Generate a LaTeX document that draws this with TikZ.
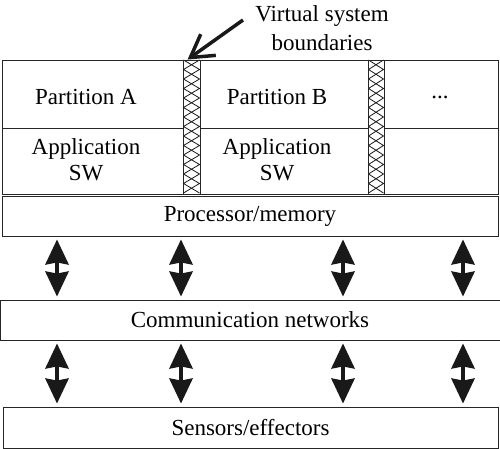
\documentclass[tikz,border=0pt]{standalone}
\usepackage{fontspec}
\setmainfont{Liberation Serif}
\usetikzlibrary{arrows.meta, positioning}

\begin{document}
\begin{tikzpicture}[x=1pt, y=-1pt,
  box/.style={rectangle, draw=black!85, line width=0.9pt, inner sep=0pt},
  lbl/.style={font=\fontsize{23}{26}\selectfont, align=center},
  updown/.style={{Stealth[length=25pt, width=23pt, inset=2pt]}-{Stealth[length=25pt, width=23pt, inset=2pt]},
    line width=4pt, black!90, shorten >=3pt, shorten <=3pt},
  pointer/.style={-{Straight Barb[length=22pt, width=26pt]}, line width=3.5pt, black!90},
  hatch/.style={black!90, line width=0.8pt}]

\pgfdeclarelayer{bg}    % lines under the boundary strips
\pgfsetlayers{bg,main}

\useasboundingbox (0,0) rectangle (500,449);

% partitions
\node (partA)[box, minimum width=181, minimum height=68] at (92.5, 94) {};
\node (partB)[box, minimum width=168, minimum height=68] at (284, 94) {};
\node (partC)[box, minimum width=114, minimum height=68] at (441, 94) {};
\node (appA)[box, minimum width=181, minimum height=66] at (92.5, 161) {};
\node (appB)[box, minimum width=168, minimum height=66] at (284, 161) {};
\node (appC)[box, minimum width=114, minimum height=66] at (441, 161) {};

\node[lbl] at (86, 97) {Partition A};
\node[lbl] at (277, 97) {Partition B};
\node[lbl] at (440, 97) {...};
\node[lbl] at (86, 160) {Application\\SW};
\node[lbl] at (277, 160) {Application\\SW};

% virtual system boundaries
\node (strip1)[box, fill=white, minimum width=17, minimum height=134] at (191.5, 127) {};
\node (strip2)[box, fill=white, minimum width=16, minimum height=134] at (376, 127) {};
\foreach \s/\l/\r in {strip1/183.5/199.5, strip2/368.5/383.5}{
  \foreach \k in {0,...,6}{
    \draw[hatch] (\l, 60+19*\k) -- (\r, 69.5+19*\k) -- (\l, 79+19*\k);
    \draw[hatch] (\r, 60+19*\k) -- (\l, 69.5+19*\k) -- (\r, 79+19*\k);
  }
}
\node[box, fill=none, minimum width=17, minimum height=134] at (strip1) {};
\node[box, fill=none, minimum width=16, minimum height=134] at (strip2) {};

\node (vsb)[lbl, font=\fontsize{23}{29}\selectfont] at (322, 28) {Virtual system\\boundaries};
\coordinate (tail) at (243, 20);
\draw[pointer] (tail) -- ([xshift=5pt]strip1.north west);

% layers below
\node (procmem)[box, minimum width=496, minimum height=40] at (250, 216) {};
\node[lbl] at (procmem) {Processor/memory};
\node (comm)[box, minimum width=500, minimum height=40] at (250, 320) {};
\node[lbl] at (comm) {Communication networks};
\node (sensors)[box, minimum width=495, minimum height=41] at (250.5, 427.5) {};
\node[lbl] at (sensors) {Sensors/effectors};

\foreach \x in {57, 181, 343, 463}{
  \draw[updown] (procmem.south -| \x, 0) -- (comm.north -| \x, 0);
  \draw[updown] (comm.south -| \x, 0) -- (sensors.north -| \x, 0);
}
\end{tikzpicture}
\end{document}
